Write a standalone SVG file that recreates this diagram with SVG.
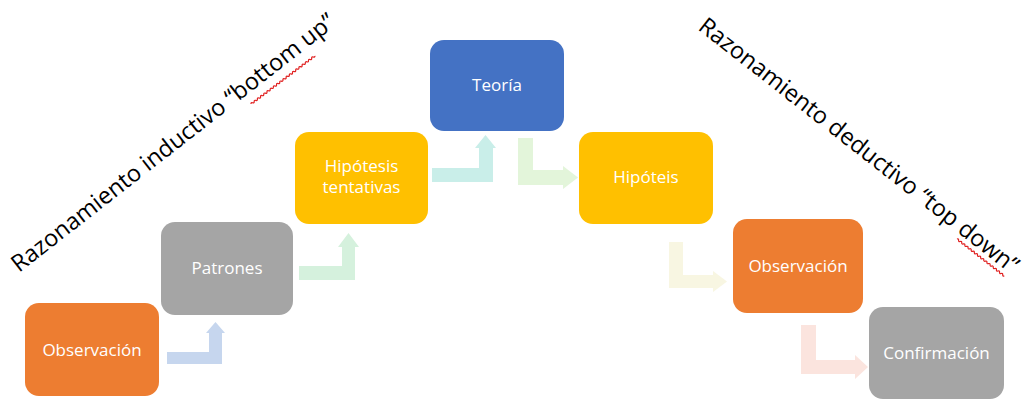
<svg xmlns="http://www.w3.org/2000/svg" width="1028" height="400" viewBox="0 0 1028 400">
<style>
.box{stroke:none}
.lbl{font-family:"Open Sans","Noto Sans",sans-serif;font-size:17px;fill:#ffffff;text-anchor:middle}
.title{font-family:"Open Sans","Noto Sans",sans-serif;font-size:23.5px;fill:#000000}
.squig{fill:none;stroke:#e02020;stroke-width:1.2}
</style>
<rect width="1028" height="400" fill="#ffffff"/>
<g id="connectors">
<path d="M167,352 L209,352 L209,333 L206,333 L215.5,322 L225,333 L222,333 L222,364 L167,364 Z" fill="#C6D6EE"/>
<path d="M299,266 L342,266 L342,247 L338,247 L348.5,233 L359,247 L355,247 L355,280 L299,280 Z" fill="#D5F1DD"/>
<path d="M432,168 L479,168 L479,148 L475,148 L485.5,135 L496,148 L493,148 L493,182 L432,182 Z" fill="#C9EEE9"/>
<path d="M518,138 L533,138 L533,170 L563,170 L563,166 L578,177.5 L563,189 L563,185 L518,185 Z" fill="#E3F5DA"/>
<path d="M669,242 L683,242 L683,275 L713,275 L713,271 L727,281.5 L713,292 L713,288 L669,288 Z" fill="#F8F6E2"/>
<path d="M801,325 L816,325 L816,360 L855,360 L855,355 L868,367 L855,379 L855,374 L801,374 Z" fill="#FBE4DE"/>
</g>
<g id="obs-left">
<rect class="box" x="25" y="303" width="134" height="93" rx="14" fill="#ED7D31"/>
<text class="lbl" x="92" y="356">Observación</text>
</g>
<g id="patrones">
<rect class="box" x="161" y="222" width="132" height="93" rx="14" fill="#A5A5A5"/>
<text class="lbl" x="227" y="274">Patrones</text>
</g>
<g id="hip-tent">
<rect class="box" x="295" y="132" width="133" height="92" rx="14" fill="#FFC000"/>
<text class="lbl" x="361.5" y="172">Hipótesis</text>
<text class="lbl" x="361.5" y="193">tentativas</text>
</g>
<g id="teoria">
<rect class="box" x="430" y="40" width="134" height="91" rx="14" fill="#4472C4"/>
<text class="lbl" x="497" y="91">Teoría</text>
</g>
<g id="hipoteis">
<rect class="box" x="579" y="132" width="134" height="92" rx="14" fill="#FFC000"/>
<text class="lbl" x="646" y="183">Hipóteis</text>
</g>
<g id="obs-right">
<rect class="box" x="733" y="219" width="130" height="94" rx="14" fill="#ED7D31"/>
<text class="lbl" x="798" y="272">Observación</text>
</g>
<g id="confirmacion">
<rect class="box" x="869" y="307" width="135" height="92" rx="14" fill="#A5A5A5"/>
<text class="lbl" x="936.5" y="359">Confirmación</text>
</g>
<g id="title-left">
<text class="title" transform="translate(19,273) rotate(-38)">Razonamiento inductivo “bottom up”</text>
<path class="squig" transform="translate(251,104) rotate(-37)" d="M0,0 q1,-1.5 2,0 t2,0 t2,0 t2,0 t2,0 t2,0 t2,0 t2,0 t2,0 t2,0 t2,0 t2,0 t2,0 t2,0 t2,0 t2,0 t2,0 t2,0 t2,0 t2,0 t2,0 t2,0 t2,0 t2,0 t2,0 t2,0 t2,0 t2,0 t2,0 t2,0 t2,0 t2,0 t2,0 t2,0 t2,0 t2,0 t2,0 t2,0 t2,0 t2,0"/>
</g>
<g id="title-right">
<text class="title" transform="translate(697,29) rotate(38)">Razonamiento deductivo “top down”</text>
<path class="squig" transform="translate(957,239) rotate(38)" d="M0,0 q1,-1.5 2,0 t2,0 t2,0 t2,0 t2,0 t2,0 t2,0 t2,0 t2,0 t2,0 t2,0 t2,0 t2,0 t2,0 t2,0 t2,0 t2,0 t2,0 t2,0 t2,0 t2,0 t2,0 t2,0 t2,0 t2,0 t2,0 t2,0 t2,0 t2,0 t2,0"/>
</g>
</svg>
